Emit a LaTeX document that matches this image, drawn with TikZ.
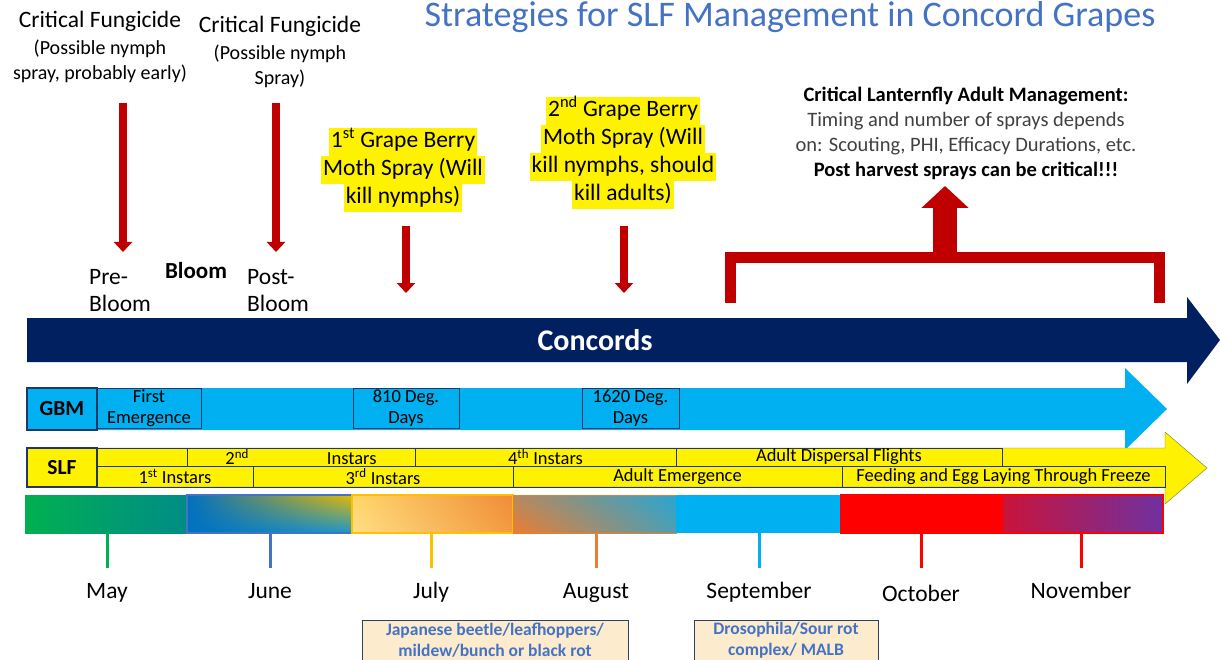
\documentclass[tikz,border=0pt]{standalone}
\usepackage{fontspec}
\setmainfont{Carlito}
\usetikzlibrary{arrows.meta,shadings}

\begin{document}
\begin{tikzpicture}[x=1pt,y=-1pt,
  big/.style={inner sep=0pt,align=center,font=\fontsize{23.5}{27}\selectfont},
  small/.style={inner sep=0pt,align=center,font=\fontsize{20}{25}\selectfont},
  hl/.style={fill=yellow,inner xsep=2pt,inner ysep=2.5pt,text height=17pt,text depth=5.5pt,font=\fontsize{23.5}{28}\selectfont},
  cell/.style={draw=kBorder,thick,inner sep=0pt,font=\fontsize{18.5}{20}\selectfont},
  spray/.style={kRed,line width=8pt,-{Triangle[width=18pt,length=10pt]}},
  pest/.style={draw=kBox,thick,fill=kBeige,text=kTitle,align=center,minimum height=40pt,inner sep=0pt,font=\bfseries\fontsize{17.5}{21}\selectfont},
  month/.style={inner sep=0pt,text height=16pt,text depth=4pt,font=\fontsize{23.5}{26}\selectfont},
  blend/.style={shading=bilinear interpolation}]
  % colors
  \definecolor{kNavy}{RGB}{0,32,96}
  \definecolor{kCyan}{RGB}{0,176,240}
  \definecolor{kRed}{RGB}{192,0,0}
  \definecolor{kTitle}{RGB}{68,114,196}
  \definecolor{kBorder}{RGB}{31,56,100}
  \definecolor{kBox}{RGB}{47,64,96}
  \definecolor{kBeige}{RGB}{252,235,205}
  \definecolor{kOlive}{RGB}{120,120,40}
  \definecolor{kGreen}{RGB}{0,176,80}
  \definecolor{kTeal}{RGB}{0,140,135}
  \definecolor{kBlue}{RGB}{0,112,192}
  \definecolor{kGold}{RGB}{230,185,0}
  \definecolor{kAmber}{RGB}{255,192,0}
  \definecolor{kOrange}{RGB}{237,125,49}
  \definecolor{kPale}{RGB}{255,214,105}
  \definecolor{kRust}{RGB}{240,140,55}
  \definecolor{kSky}{RGB}{40,166,210}
  \definecolor{kRedB}{RGB}{255,0,0}
  \definecolor{kCrimson}{RGB}{200,20,60}
  \definecolor{kPurple}{RGB}{112,48,160}
  \definecolor{kGrey}{RGB}{64,64,64}
  \useasboundingbox (0,0) rectangle (1220,660);

  % title
  \node[inner sep=0pt,text=kTitle,font=\fontsize{36}{40}\selectfont] (title) at (790,17) {Strategies for SLF Management in Concord Grapes};

  % big arrows
  \fill[kNavy] (27,318) -- (1187,318) -- (1187,297) -- (1220,340) -- (1187,384) -- (1187,362) -- (27,362) -- cycle;
  \node[inner sep=0pt,text=white,font=\bfseries\fontsize{30}{32}\selectfont] (conc) at (595,340) {Concords};
  \fill[kCyan] (27,388) -- (1125,388) -- (1125,368) -- (1167,409) -- (1125,450) -- (1125,430) -- (27,430) -- cycle;
  \filldraw[fill=yellow,draw=kOlive] (27,448) -- (1165,448) -- (1165,432) -- (1207,468) -- (1165,504) -- (1165,487) -- (27,487) -- cycle;

  % GBM row
  \draw[cell,line width=2.5pt] (27,388) rectangle (97,430) node[midway,font=\bfseries\fontsize{21.5}{24}\selectfont] (gbm) {GBM};
  \foreach \xa/\xb/\txt [count=\i] in {97/201/{First\\Emergence}, 353/459/{810 Deg.\\Days}, 582/679/{1620 Deg.\\Days}}
    \draw[cell] (\xa,388) rectangle (\xb,428) node[midway,align=center,font=\fontsize{18.5}{21}\selectfont] (g\i) {\txt};

  % SLF rows
  \draw[cell,line width=2.5pt] (27,448) rectangle (97,487) node[midway,font=\bfseries\fontsize{21.5}{24}\selectfont] (slf) {SLF};
  \foreach \xa/\xb/\txt [count=\i] in {97/187/{}, 187/415/{2\textsuperscript{nd}\hspace{78pt}Instars}, 415/676/{4\textsuperscript{th} Instars}, 676/1002/{Adult Dispersal Flights}}
    \draw[cell] (\xa,448) rectangle (\xb,466) node[midway] (t\i) {\txt};
  \foreach \xa/\xb/\txt [count=\i] in {97/253/{1\textsuperscript{st} Instars}, 253/513/{3\textsuperscript{rd} Instars}, 513/842/{Adult Emergence}, 842/1165/{Feeding and Egg Laying Through Freeze}}
    \draw[cell] (\xa,466) rectangle (\xb,487) node[midway] (b\i) {\txt};

  % month bar
  \shade[left color=kGreen,right color=kTeal] (25,495) rectangle (187,533);
  \shade[blend,upper left=kBlue,lower left=kBlue,upper right=kGold,lower right=kSky!70!kBlue] (187,495) rectangle (352,533);
  \draw[kTitle,line width=1.5pt] (187,495) rectangle (352,533);
  \shade[blend,upper left=kPale,lower left=kPale!80!white,upper right=kRust,lower right=kRust!80!kPale] (352,495) rectangle (513,533);
  \draw[kAmber,line width=1.5pt] (352,495) rectangle (513,533);
  \shade[blend,upper left=kOrange!70!kSky,lower left=kOrange,upper right=kSky,lower right=kSky!80!kOrange] (513,495) rectangle (676,533);
  \draw[kOrange,line width=1pt] (513,495) rectangle (676,533);
  \fill[kCyan] (676,495) rectangle (840,533);
  \fill[kRedB] (840,495) rectangle (1003,533);
  \shade[left color=kCrimson,right color=kPurple] (1003,495) rectangle (1163,533);
  \draw[kRedB,line width=1.5pt] (840,495) -- (1163,495) -- (1163,533) -- (840,533);

  % months
  \foreach \x/\y/\c/\m [count=\i] in {107/592/kGreen/May, 270/592/kTitle/June, 431/592/kAmber/July, 596/592/kOrange/August, 759/592/kCyan/September, 921/595/kRedB/October, 1081/592/kRedB/November} {
    \draw[\c,line width=3pt] (\x,533) -- (\x,568);
    \node[month] (m\i) at (\x,\y) {\m};
  }

  % pests
  \node[pest,minimum width=266pt] (jb) at (495,640) {Japanese beetle/leafhoppers/\\mildew/bunch or black rot};
  \node[pest,minimum width=184pt] (dros) at (786,640) {Drosophila/Sour rot\\complex/ MALB};

  % fungicide sprays
  \node[big] (cf1) at (100,21) {Critical Fungicide};
  \node[small] (cf1s) at (100,61) {(Possible nymph\\spray, probably early)};
  \node[big] (cf2) at (280,26) {Critical Fungicide};
  \node[small] (cf2s) at (280,66) {(Possible nymph\\Spray)};
  \node[big,anchor=west,align=left] (pre) at (89,291) {Pre-\\Bloom};
  \node[big,font=\bfseries\fontsize{23}{24}\selectfont] (bloom) at (196,271) {Bloom};
  \node[big,anchor=west,align=left] (post) at (247,291) {Post-\\Bloom};
  \coordinate (a1) at (123,103);
  \coordinate (e1) at (123,252);
  \coordinate (a2) at (276,103);
  \coordinate (e2) at (276,252);
  \draw[spray] (a1) -- (e1);
  \draw[spray] (a2) -- (e2);

  % grape berry moth sprays
  \foreach \t [count=\i] in {{1\textsuperscript{st} Grape Berry}, {Moth Spray (Will}, {kill nymphs)}}
    \node[hl] (gA\i) at (403,114+28*\i) {\t};
  \foreach \t [count=\i] in {{2\textsuperscript{nd} Grape Berry}, {Moth Spray (Will}, {kill nymphs, should}, {kill adults)}}
    \node[hl] (gB\i) at (623,83+28*\i) {\t};
  \coordinate (a3) at (406,226);
  \coordinate (e3) at (406,293);
  \coordinate (a4) at (624,226);
  \coordinate (e4) at (624,293);
  \draw[spray] (a3) -- (e3);
  \draw[spray] (a4) -- (e4);

  % adult management
  \node[inner sep=0pt,align=center,text=kGrey,font=\fontsize{20.5}{25}\selectfont] (adult) at (966,133)
    {{\bfseries\color{black}Critical Lanternfly Adult Management:}\\Timing and number of sprays depends\\on: Scouting, PHI, Efficacy Durations, etc.\\{\bfseries\color{black}Post harvest sprays can be critical!!!}};
  \coordinate (l0) at (730,303);
  \coordinate (l1) at (730,257.5);
  \coordinate (r1) at (1159.5,257.5);
  \coordinate (r0) at (1159.5,303);
  \draw[kRed,line width=11pt] (l0) -- (l1) -- (r1) -- (r0);
  \coordinate (up0) at (945,257);
  \coordinate (up1) at (945,186);
  \draw[kRed,line width=24pt,-{Triangle[width=46pt,length=22pt]}] (up0) -- (up1);
\end{tikzpicture}
\end{document}
